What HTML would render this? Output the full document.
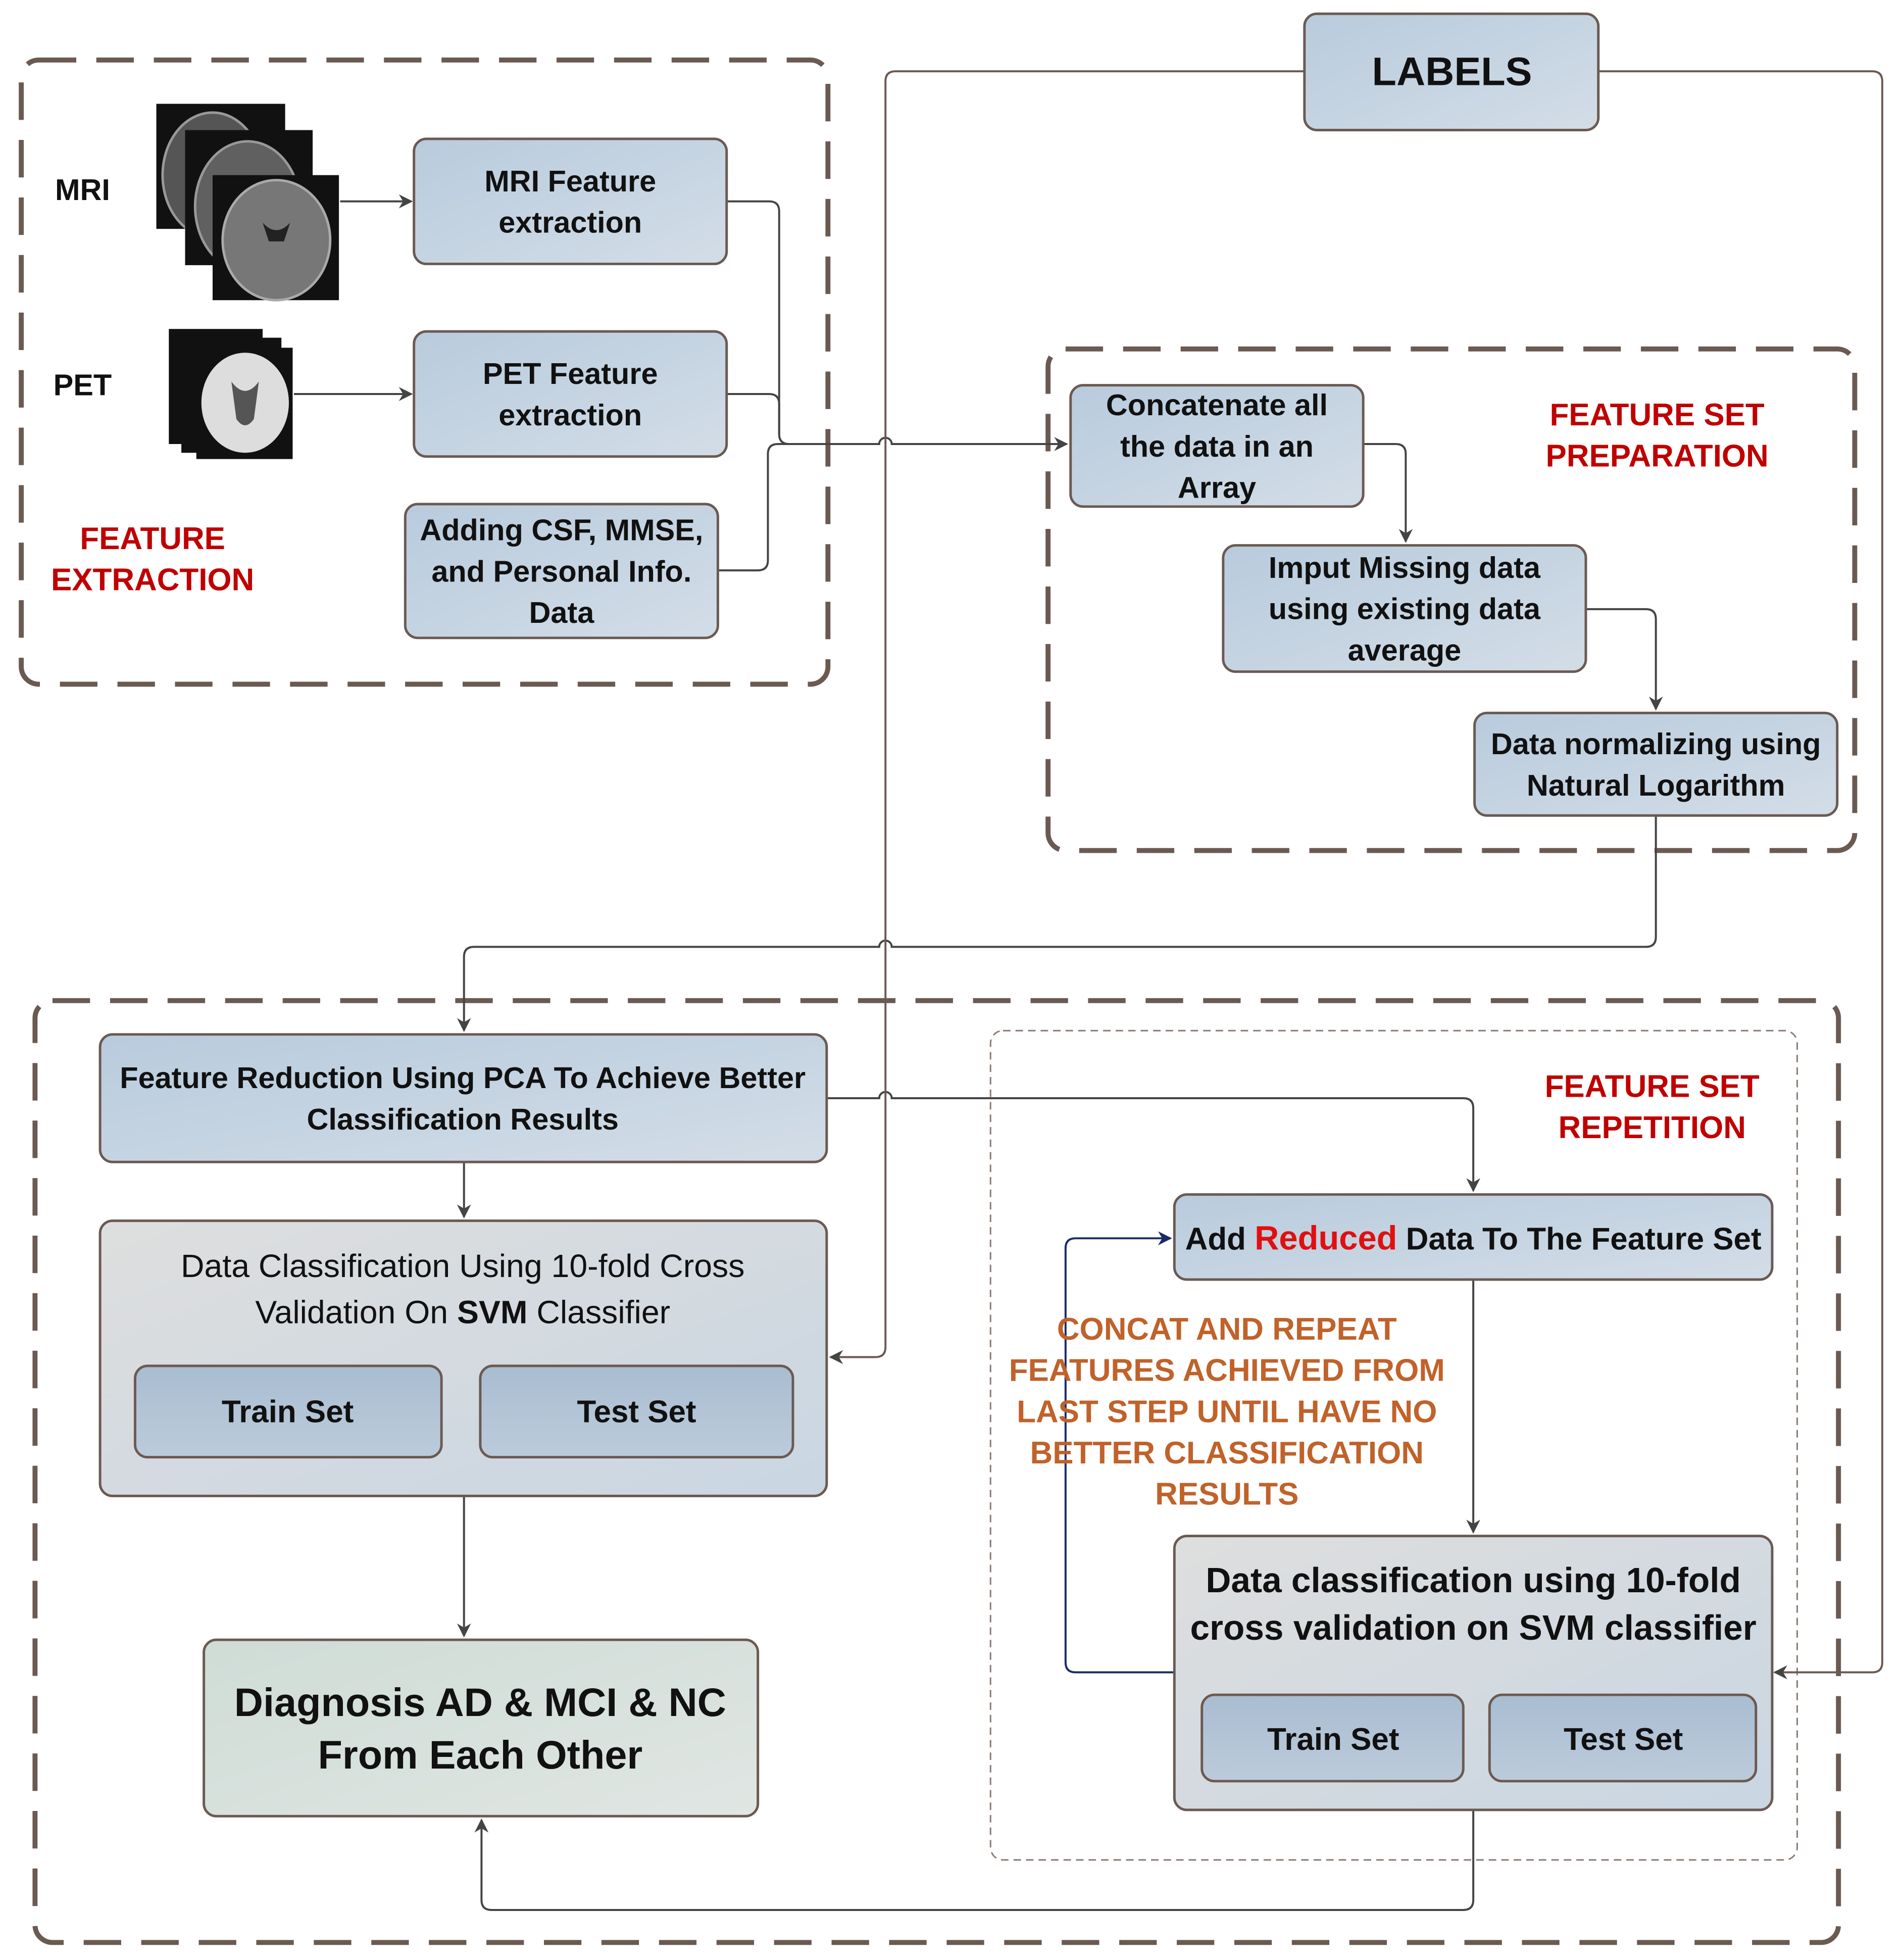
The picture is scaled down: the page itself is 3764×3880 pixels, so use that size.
<!DOCTYPE html>
<html><head><meta charset="utf-8"><style>
html,body{margin:0;padding:0;background:#fff}
svg{display:block}
text{font-family:"Liberation Sans",sans-serif}
</style></head><body>
<svg width="3764" height="3880" viewBox="0 0 1520 1567" preserveAspectRatio="none" xmlns="http://www.w3.org/2000/svg">
<defs>
<linearGradient id="bl" x1="0" y1="0" x2="1" y2="1"><stop offset="0" stop-color="#b8cbdd"/><stop offset="1" stop-color="#d3dde7"/></linearGradient>
<linearGradient id="gr" x1="0" y1="0" x2="1" y2="1"><stop offset="0" stop-color="#dedede"/><stop offset="1" stop-color="#c9d6e2"/></linearGradient>
<linearGradient id="gn" x1="0" y1="0" x2="1" y2="1"><stop offset="0" stop-color="#cfdcd6"/><stop offset="1" stop-color="#e0e6e3"/></linearGradient>
<linearGradient id="bt" x1="0" y1="0" x2="0" y2="1"><stop offset="0" stop-color="#a9bdd1"/><stop offset="1" stop-color="#bccbdb"/></linearGradient>
<marker id="a" viewBox="0 0 10 10" refX="9" refY="5" markerWidth="7" markerHeight="7" orient="auto"><path d="M0,0 L10,5 L0,10 L3,5z" fill="#444"/></marker>
<marker id="ab" viewBox="0 0 10 10" refX="9" refY="5" markerWidth="7" markerHeight="7" orient="auto"><path d="M0,0 L10,5 L0,10 L3,5z" fill="#1a2a6a"/></marker>
</defs>
<g fill="none" stroke="#6b5a52" stroke-width="4" stroke-dasharray="30 16">
<rect x="17" y="48" width="645" height="499" rx="14"/>
<rect x="838" y="279" width="645" height="401" rx="14"/>
<rect x="28" y="800" width="1442" height="753" rx="14"/>
</g>
<rect x="792" y="824" width="645" height="663" rx="10" fill="none" stroke="#8a7a72" stroke-width="1.2" stroke-dasharray="6 4"/>
<!-- images -->
<rect x="125" y="83" width="103" height="100" fill="#111"/>
<ellipse cx="170" cy="140" rx="40" ry="50" fill="#555" stroke="#999" stroke-width="2"/>
<rect x="148" y="104" width="102" height="108" fill="#111"/>
<ellipse cx="198" cy="165" rx="42" ry="52" fill="#606060" stroke="#999" stroke-width="2"/>
<rect x="170" y="140" width="101" height="100" fill="#111"/>
<ellipse cx="221" cy="192" rx="43" ry="48" fill="#777" stroke="#aaa" stroke-width="2"/>
<path d="M210,178 q11,12 22,0 l-5,15 h-12z" fill="#222"/>
<rect x="135" y="263" width="75" height="92" fill="#111"/>
<rect x="145" y="270" width="80" height="92" fill="#111"/>
<rect x="157" y="278" width="77" height="89" fill="#111"/>
<ellipse cx="196" cy="322" rx="35" ry="40" fill="#ddd"/>
<path d="M185,305 q11,15 22,0 l-4,30 q-7,10 -14,0z" fill="#555"/>
<!-- connectors -->
<g fill="none" stroke="#444" stroke-width="1.6">
<path d="M272,161 H329" marker-end="url(#a)"/>
<path d="M235,315 H329" marker-end="url(#a)"/>
<path d="M581,161 H615 q8,0 8,8 V347 q0,8 8,8"/>
<path d="M581,315 H615 q8,0 8,8 V347"/>
<path d="M574,456 H606 q8,0 8,-8 V363 q0,-8 8,-8 H703 a5,5 0 0 1 10,0 H853" marker-end="url(#a)"/>
<path d="M1090,355 H1116 q8,0 8,8 V433" marker-end="url(#a)"/>
<path d="M1268,487 H1316 q8,0 8,8 V567" marker-end="url(#a)"/>
<path d="M1324,652 V749 q0,8 -8,8 H713 a5,5 0 0 0 -10,0 H379 q-8,0 -8,8 V824" marker-end="url(#a)"/>
<path d="M661,878 H703 a5,5 0 0 1 10,0 H1170 q8,0 8,8 V952" marker-end="url(#a)"/>
<path d="M371,929 V973" marker-end="url(#a)"/>
<path d="M371,1196 V1308" marker-end="url(#a)"/>
<path d="M1178,1023 V1225" marker-end="url(#a)"/>
<path d="M1178,1447 V1519 q0,8 -8,8 H393 q-8,0 -8,-8 V1455" marker-end="url(#a)"/>
</g>
<g fill="none" stroke="#6b5a52" stroke-width="1.6">
<path d="M1043,57 H716 q-8,0 -8,8 V1077 q0,8 -8,8 H664" marker-end="url(#a)"/>
<path d="M1278,57 H1497 q8,0 8,8 V1329 q0,8 -8,8 H1419" marker-end="url(#a)"/>
</g>
<path d="M939,1337 H860 q-8,0 -8,-8 V998 q0,-8 8,-8 H936" fill="none" stroke="#1a2a6a" stroke-width="1.6" marker-end="url(#ab)"/>
<!-- boxes -->
<g stroke="#6b5a52" stroke-width="2">
<rect x="1043" y="11" width="235" height="93" rx="10" fill="url(#bl)"/>
<rect x="331" y="111" width="250" height="100" rx="10" fill="url(#bl)"/>
<rect x="331" y="265" width="250" height="100" rx="10" fill="url(#bl)"/>
<rect x="324" y="403" width="250" height="107" rx="10" fill="url(#bl)"/>
<rect x="856" y="308" width="234" height="97" rx="10" fill="url(#bl)"/>
<rect x="978" y="436" width="290" height="101" rx="10" fill="url(#bl)"/>
<rect x="1179" y="570" width="290" height="82" rx="10" fill="url(#bl)"/>
<rect x="80" y="827" width="581" height="102" rx="10" fill="url(#bl)"/>
<rect x="80" y="976" width="581" height="220" rx="10" fill="url(#gr)"/>
<rect x="108" y="1092" width="245" height="73" rx="10" fill="url(#bt)"/>
<rect x="384" y="1092" width="250" height="73" rx="10" fill="url(#bt)"/>
<rect x="163" y="1311" width="443" height="141" rx="10" fill="url(#gn)"/>
<rect x="939" y="955" width="478" height="68" rx="10" fill="url(#bl)"/>
<rect x="939" y="1228" width="478" height="219" rx="10" fill="url(#gr)"/>
<rect x="961" y="1355" width="209" height="69" rx="10" fill="url(#bt)"/>
<rect x="1191" y="1355" width="213" height="69" rx="10" fill="url(#bt)"/>
</g>
<!-- text -->
<g font-size="24" fill="#111" text-anchor="middle" font-weight="bold">
<text x="66" y="160">MRI</text>
<text x="66" y="316">PET</text>
<text x="1161" y="68" font-size="32">LABELS</text>
<text x="456" y="153">MRI Feature</text><text x="456" y="186">extraction</text>
<text x="456" y="307">PET Feature</text><text x="456" y="340">extraction</text>
<text x="449" y="432">Adding CSF, MMSE,</text><text x="449" y="465">and Personal Info.</text><text x="449" y="498">Data</text>
<text x="973" y="332">Concatenate all</text><text x="973" y="365">the data in an</text><text x="973" y="398">Array</text>
<text x="1123" y="462">Imput Missing data</text><text x="1123" y="495">using existing data</text><text x="1123" y="528">average</text>
<text x="1324" y="603">Data normalizing using</text><text x="1324" y="636">Natural Logarithm</text>
<text x="370" y="870">Feature Reduction Using PCA To Achieve Better</text><text x="370" y="903">Classification Results</text>
<text x="370" y="1021" font-weight="normal" font-size="26">Data Classification Using 10-fold Cross</text>
<text x="370" y="1058" font-weight="normal" font-size="26">Validation On <tspan font-weight="bold">SVM</tspan> Classifier</text>
<text x="230" y="1137" font-size="25">Train Set</text>
<text x="509" y="1137" font-size="25">Test Set</text>
<text x="384" y="1372" font-size="32">Diagnosis AD &amp; MCI &amp; NC</text>
<text x="384" y="1414" font-size="32">From Each Other</text>
<text x="1178" y="999" font-size="25">Add <tspan fill="#e01010" font-size="27">Reduced</tspan> Data To The Feature Set</text>
<text x="1178" y="1273" font-size="28">Data classification using 10-fold</text>
<text x="1178" y="1311" font-size="28">cross validation on SVM classifier</text>
<text x="1066" y="1399" font-size="25">Train Set</text>
<text x="1298" y="1399" font-size="25">Test Set</text>
</g>
<g font-size="25" font-weight="bold" fill="#c00000" text-anchor="middle">
<text x="122" y="439">FEATURE</text><text x="122" y="472">EXTRACTION</text>
<text x="1325" y="340">FEATURE SET</text><text x="1325" y="373">PREPARATION</text>
<text x="1321" y="877">FEATURE SET</text><text x="1321" y="910">REPETITION</text>
</g>
<g font-size="25" font-weight="bold" fill="#c0622a" text-anchor="middle">
<text x="981" y="1071">CONCAT AND REPEAT</text>
<text x="981" y="1104">FEATURES ACHIEVED FROM</text>
<text x="981" y="1137">LAST STEP UNTIL HAVE NO</text>
<text x="981" y="1170">BETTER CLASSIFICATION</text>
<text x="981" y="1203">RESULTS</text>
</g>
</svg>
</body></html>
